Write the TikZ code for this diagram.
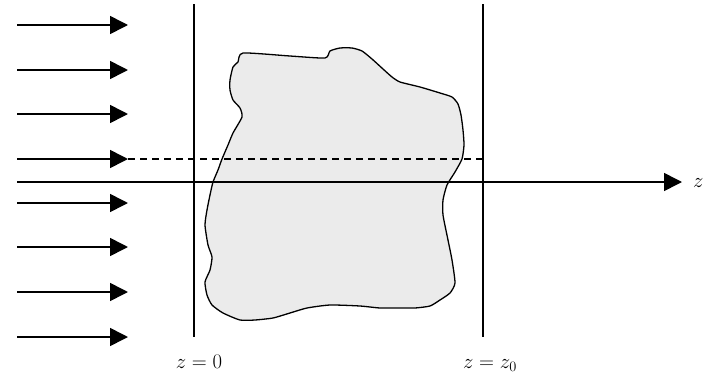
\documentclass[tikz,border=0pt]{standalone}
\usetikzlibrary{arrows.meta}
\begin{document}
\begin{tikzpicture}[x=1pt,y=-1pt,
  beam/.style={line width=1.6pt,-{Triangle[length=18pt,width=18pt]}},
  wall/.style={line width=1.1pt},
  lbl/.style={font=\fontsize{20}{24}\selectfont,inner sep=0pt},
  blob/.style={line width=1.3pt,fill=black!8,line join=round}]
\useasboundingbox (0,0) rectangle (715,375);
% object
\draw[blob] plot[smooth cycle,tension=0.35] coordinates {
(243,53) (290,56) (325,58) (330,51) (340,48) (352,48) (362,51) (372,59) (383,69) (392,77) (400,82) (420,87) (440,93) (452,97) (458,104) (461,115) (463,130) (464,145) (462,159) (455,172) (447,185) (443,200) (443,215) (448,240) (452,260) (455,283) (450,293) (440,300) (430,306) (415,308) (400,308) (380,308) (360,306) (330,305) (307,308) (290,313) (273,318) (255,320) (240,320) (223,313) (212,305) (207,295) (205,282) (210,270) (212,257) (208,245) (205,225) (207,210) (210,195) (213,182) (218,170) (222,159) (228,145) (233,133) (242,117) (240,108) (233,100) (230,90) (230,80) (233,67) (238,62)};
% walls
\coordinate (w1t) at (194,4); \coordinate (w1b) at (194,337);
\coordinate (w2t) at (483,4); \coordinate (w2b) at (483,337);
\draw[wall] (w1t) -- (w1b);
\draw[wall] (w2t) -- (w2b);
% incident beams
\foreach \i/\y in {1/25,2/70,3/114,4/159,5/203,6/247,7/292,8/337}{
  \coordinate (s\i) at (17,\y);
  \coordinate (e\i) at (128,\y);
  \draw[beam] (s\i) -- (e\i);
}
% dashed ray
\coordinate (d4) at (483,159);
\draw[line width=1.1pt,dash pattern=on 7pt off 5pt] (e4) -- (d4);
% axis
\coordinate (a0) at (17,182);
\node[lbl,anchor=west] (zlab) at (693,183) {$z$};
\coordinate (a1) at (682,182);
\draw[beam] (a0) -- (a1);
% labels
\node[lbl,anchor=base] (l0) at (199,368) {$z=0$};
\node[lbl,anchor=base] (l1) at (490,368) {$z=z_0$};
\end{tikzpicture}
\end{document}
